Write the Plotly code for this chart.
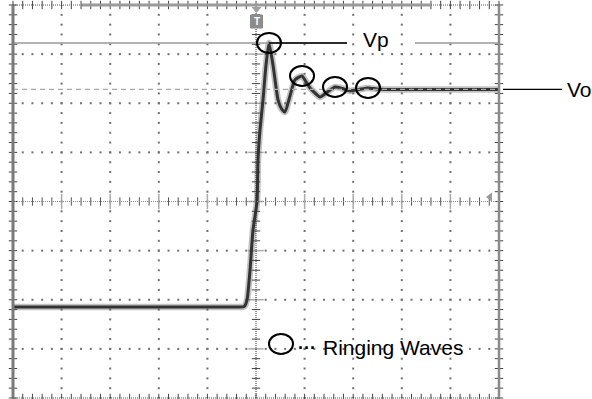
import numpy as np
import plotly.graph_objects as go

# Step response captured on a 10 x 8 division scope screen.
# Time and voltage are both in screen divisions (x: 0..10, y: -4..+4).
t_div = [0.000, 1.500, 3.000, 4.300, 4.650, 4.753, 4.815, 4.877, 4.938, 5.021,
         5.041, 5.082, 5.144, 5.206, 5.267, 5.350, 5.453, 5.530, 5.597, 5.700,
         5.802, 5.947, 6.040, 6.111, 6.317, 6.470, 6.626, 6.780, 6.934, 7.120,
         7.305, 7.480, 7.654, 8.500, 9.300, 10.000]
v_div = [-2.149, -2.149, -2.149, -2.149, -2.149, -2.140, -2.006, -1.395, -0.580, -0.010,
         0.845, 1.456, 2.067, 2.780, 3.228, 2.780, 2.067, 1.880, 1.823, 2.150,
         2.475, 2.556, 2.420, 2.312, 2.128, 2.230, 2.332, 2.300, 2.251, 2.280,
         2.312, 2.290, 2.281, 2.281, 2.281, 2.281]

# indices of the ringing peaks that get circled
ring_idx = [14, 21, 26, 30]

vo_level = v_div[-1]
vp_level = max(v_div)

X_DIVS, Y_DIVS = 10, 8
PLOT_L, PLOT_T, PLOT_W, PLOT_H = 13, 5, 486, 393


def px_x(px):
    """screen pixel column -> paper x"""
    return (px - PLOT_L) / PLOT_W


def px_y(py):
    """screen pixel row -> paper y"""
    return (PLOT_T + PLOT_H - py) / PLOT_H


def div_to_paper_y(v):
    return (v + Y_DIVS / 2) / Y_DIVS


fig = go.Figure()

# ---- graticule dots (1/5 division spacing on every major line) ----
sub = np.round(np.arange(0, X_DIVS + 1e-9, 0.2), 3)
sub_y = np.round(np.arange(-4, 4 + 1e-9, 0.2), 3)
gx, gy = [], []
for yl in [-3, -2, -1, 1, 2, 3]:
    gx += list(sub)
    gy += [yl] * len(sub)
for xl in [1, 2, 3, 4, 6, 7, 8, 9]:
    gx += [xl] * len(sub_y)
    gy += list(sub_y)
fig.add_trace(go.Scatter(x=gx, y=gy, mode="markers", hoverinfo="skip",
                         marker=dict(symbol="square", size=2, color="#707070",
                                     line=dict(width=0))))

# centre cross with minor ticks
fig.add_shape(type="line", x0=0, x1=X_DIVS, y0=0, y1=0,
              line=dict(color="#8a8a8a", width=1, dash="1px,1px"))
fig.add_shape(type="line", x0=5, x1=5, y0=-4, y1=4,
              line=dict(color="#333", width=1, dash="1px,1px"))
minor_x = [v for v in sub if abs(v - round(v)) > 1e-6]
major_x = [v for v in range(1, X_DIVS)]
minor_y = [v for v in sub_y if abs(v - round(v)) > 1e-6]
major_y = [v for v in range(-3, 4)]
fig.add_trace(go.Scatter(x=minor_x, y=[0] * len(minor_x), mode="markers", hoverinfo="skip",
                         marker=dict(symbol="line-ns", size=6,
                                     line=dict(color="#555", width=1))))
fig.add_trace(go.Scatter(x=major_x, y=[0] * len(major_x), mode="markers", hoverinfo="skip",
                         marker=dict(symbol="line-ns", size=11,
                                     line=dict(color="#aaa", width=1.5))))
fig.add_trace(go.Scatter(x=[5] * len(minor_y), y=minor_y, mode="markers", hoverinfo="skip",
                         marker=dict(symbol="line-ew", size=6,
                                     line=dict(color="#444", width=1))))
fig.add_trace(go.Scatter(x=[5] * len(major_y), y=major_y, mode="markers", hoverinfo="skip",
                         marker=dict(symbol="line-ew", size=11,
                                     line=dict(color="#aaa", width=1.5))))

# frame ticks along all four edges
fig.add_trace(go.Scatter(x=[0] * len(sub_y) + [X_DIVS] * len(sub_y),
                         y=list(sub_y) * 2, mode="markers", hoverinfo="skip",
                         cliponaxis=False,
                         marker=dict(symbol="line-ew", size=6,
                                     line=dict(color="#444", width=1))))
fig.add_trace(go.Scatter(x=list(sub) * 2, y=[-4] * len(sub) + [4] * len(sub),
                         mode="markers", hoverinfo="skip", cliponaxis=False,
                         marker=dict(symbol="line-ns", size=6,
                                     line=dict(color="#444", width=1))))

# reference cursors: Vp (solid) and Vo (dashed)
fig.add_shape(type="line", x0=0, x1=(347 - PLOT_L) / 48.6, y0=vp_level, y1=vp_level,
              line=dict(color="#9a9a9a", width=1.5))
fig.add_shape(type="line", x0=(415 - PLOT_L) / 48.6, x1=X_DIVS, y0=vp_level, y1=vp_level,
              line=dict(color="#9a9a9a", width=1.5))
fig.add_shape(type="line", x0=0, x1=X_DIVS, y0=vo_level, y1=vo_level,
              line=dict(color="#aaaaaa", width=1.2, dash="5px,4px"))

# ---- the waveform: soft halo plus dark core ----
fig.add_trace(go.Scatter(x=t_div, y=v_div, mode="lines", hoverinfo="skip",
                         line=dict(color="rgba(80,80,80,0.35)", width=6.5,
                                   shape="spline", smoothing=0.5)))
fig.add_trace(go.Scatter(x=t_div, y=v_div, mode="lines", hoverinfo="skip",
                         line=dict(color="#333333", width=3,
                                   shape="spline", smoothing=0.5)))

# circles around the ringing peaks
rx, ry = 12 / 48.6, 10 / 49.1
for i in ring_idx:
    fig.add_shape(type="circle", x0=t_div[i] - rx, x1=t_div[i] + rx,
                  y0=v_div[i] - ry, y1=v_div[i] + ry,
                  line=dict(color="black", width=2))

# Vp leader
fig.add_shape(type="line", x0=t_div[ring_idx[0]], x1=(347 - PLOT_L) / 48.6,
              y0=vp_level, y1=vp_level, line=dict(color="black", width=1.5))

# frame borders
fig.add_shape(type="line", xref="paper", yref="paper", x0=0, x1=0, y0=0, y1=1,
              line=dict(color="#7a7a7a", width=3))
fig.add_shape(type="line", xref="paper", yref="paper", x0=1, x1=1, y0=0, y1=1,
              line=dict(color="#8a8a8a", width=2.5))
fig.add_shape(type="line", xref="paper", yref="paper", x0=0, x1=1, y0=1, y1=1,
              line=dict(color="#555", width=1, dash="1px,1px"))
fig.add_shape(type="line", xref="paper", yref="paper", x0=0, x1=1, y0=0, y1=0,
              line=dict(color="#555", width=1, dash="1px,1px"))
fig.add_shape(type="line", xref="paper", yref="paper", x0=px_x(82), x1=px_x(430),
              y0=1, y1=1, line=dict(color="#9a9a9a", width=3))

# trigger marker at top
fig.add_shape(type="path", xref="paper", yref="paper",
              path=f"M {px_x(251.5)} {px_y(7)} L {px_x(261.5)} {px_y(7)} L {px_x(256.5)} {px_y(13)} Z",
              fillcolor="#a0a0a0", line=dict(width=0))
fig.add_shape(type="rect", xref="paper", yref="paper",
              x0=px_x(250.5), x1=px_x(262.5), y0=px_y(28), y1=px_y(15),
              fillcolor="#8c8c8c", line=dict(color="#8c8c8c", width=1))
fig.add_annotation(xref="paper", yref="paper", x=px_x(256.5), y=px_y(21.5), text="<b>T</b>",
                   showarrow=False, font=dict(family="Liberation Sans", size=10, color="white"),
                   xanchor="center", yanchor="middle")

# channel / trigger level markers on the edges
fig.add_trace(go.Scatter(x=[(490 - PLOT_L) / 48.6], y=[0.09], mode="markers", hoverinfo="skip",
                         marker=dict(symbol="triangle-left", size=8, color="#9a9a9a")))
fig.add_trace(go.Scatter(x=[-0.05], y=[0], mode="markers", hoverinfo="skip", cliponaxis=False,
                         marker=dict(symbol="triangle-right", size=6, color="#9a9a9a")))

# Vo leader outside the screen
vo_p = div_to_paper_y(vo_level)
fig.add_shape(type="line", xref="paper", yref="paper", x0=px_x(503), x1=px_x(562),
              y0=vo_p, y1=vo_p, line=dict(color="black", width=1.2))

txt_font = dict(family="Liberation Sans, Arial, sans-serif", size=21, color="black")
fig.add_annotation(xref="paper", yref="paper", x=px_x(375.5), y=px_y(39), text="Vp",
                   showarrow=False, font=txt_font, xanchor="center", yanchor="middle")
fig.add_annotation(xref="paper", yref="paper", x=px_x(565), y=vo_p, text="Vo",
                   showarrow=False, font=txt_font, xanchor="left", yanchor="middle")

# key for the circles
fig.add_shape(type="circle", x0=(269 - PLOT_L) / 48.6, x1=(293 - PLOT_L) / 48.6,
              y0=-2.9 - ry, y1=-2.9 + ry, line=dict(color="black", width=2))
fig.add_annotation(xref="paper", yref="paper", x=px_x(307), y=px_y(348), text="<b>···</b>",
                   showarrow=False, font=dict(family="Liberation Sans", size=18, color="black"),
                   xanchor="center", yanchor="middle")
fig.add_annotation(xref="paper", yref="paper", x=px_x(321), y=px_y(347), text="Ringing Waves",
                   showarrow=False, font=txt_font, xanchor="left", yanchor="middle")

fig.update_layout(
    width=592, height=399,
    margin=dict(l=PLOT_L, r=592 - PLOT_L - PLOT_W, t=PLOT_T, b=399 - PLOT_T - PLOT_H),
    paper_bgcolor="white", plot_bgcolor="white",
    showlegend=False,
    xaxis=dict(range=[0, X_DIVS], showgrid=False, zeroline=False, showticklabels=False,
               ticks="", showline=False, fixedrange=True),
    yaxis=dict(range=[-4, 4], showgrid=False, zeroline=False, showticklabels=False,
               ticks="", showline=False, fixedrange=True),
)

fig.write_html("out.html")
